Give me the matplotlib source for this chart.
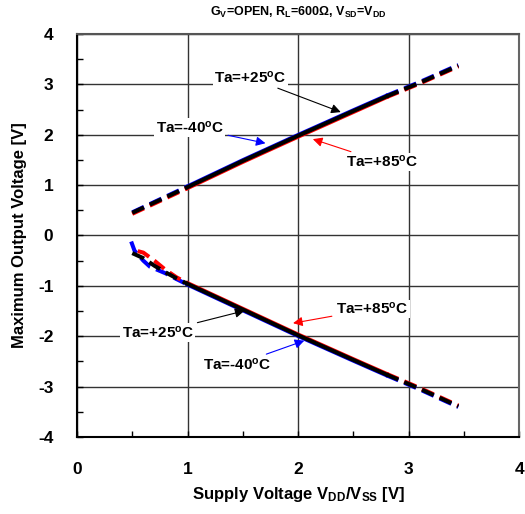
import matplotlib
matplotlib.use('Agg')
import matplotlib.pyplot as plt
import numpy as np

plt.rcParams['font.family'] = ['Liberation Sans', 'DejaVu Sans']
plt.rcParams['font.weight'] = 'bold'
plt.rcParams['axes.unicode_minus'] = False
plt.rcParams['mathtext.fontset'] = 'custom'
plt.rcParams['mathtext.rm'] = 'Liberation Sans:weight=bold'
plt.rcParams['mathtext.it'] = 'Liberation Sans:weight=bold'
plt.rcParams['mathtext.bf'] = 'Liberation Sans:weight=bold'
plt.rcParams['mathtext.default'] = 'bf'

# upper branch (positive output)
x_hi = [0.5, 1.0, 1.5, 2.0, 2.5, 2.8, 3.1, 3.45]
y_hi_25 = [0.45, 0.96, 1.48, 1.98, 2.47, 2.76, 3.03, 3.37]
y_hi_85 = [0.43, 0.94, 1.46, 1.96, 2.45, 2.745, 3.015, 3.355]
y_hi_m40 = [0.46, 0.975, 1.495, 1.995, 2.485, 2.775, 3.045, 3.385]

# lower branch (negative output)
x_lo_25 = [0.5, 0.6, 0.7, 0.8, 0.9, 1.0, 1.5, 2.0, 2.5, 2.8, 3.1, 3.45]
y_lo_25 = [-0.35, -0.45, -0.6, -0.73, -0.85, -0.96, -1.47, -1.98, -2.47, -2.76, -3.04, -3.39]
x_lo_85 = [0.55, 0.6, 0.7, 0.8, 0.9, 1.0, 1.5, 2.0, 2.5, 2.8, 3.1, 3.45]
y_lo_85 = [-0.31, -0.34, -0.5, -0.68, -0.83, -0.945, -1.455, -1.965, -2.455, -2.745, -3.025, -3.375]
x_lo_m40 = [0.49, 0.52, 0.6, 0.66, 0.8, 0.9, 1.0, 1.5, 2.0, 2.5, 2.8, 3.1, 3.45]
y_lo_m40 = [-0.12, -0.3, -0.5, -0.62, -0.75, -0.865, -0.975, -1.485, -1.995, -2.485, -2.775, -3.055, -3.405]

x_ticks = [0, 1, 2, 3, 4]
y_ticks = [-4, -3, -2, -1, 0, 1, 2, 3, 4]


def draw(ax, x, y, color, lw):
    x = np.array(x)
    y = np.array(y)
    lo = x <= 1.0
    mid = (x >= 1.0) & (x <= 2.8)
    hi = x >= 2.8
    ax.plot(x[lo], y[lo], color=color, lw=lw, dashes=(3.2, 1.6))
    ax.plot(x[mid], y[mid], color=color, lw=lw)
    ax.plot(x[hi], y[hi], color=color, lw=lw, dashes=(3.2, 1.6))


fig = plt.figure(figsize=(5.25, 5.14), dpi=100)
ax = fig.add_axes([0.1467, 0.1498, 0.842, 0.7841])

for xx, yy, c in [(x_hi, y_hi_m40, 'blue'), (x_hi, y_hi_85, 'red'), (x_hi, y_hi_25, 'black'),
                  (x_lo_m40, y_lo_m40, 'blue'), (x_lo_85, y_lo_85, 'red'), (x_lo_25, y_lo_25, 'black')]:
    draw(ax, xx, yy, c, 2.9)

ax.set_xlim(0, 4)
ax.set_ylim(-4, 4)
ax.set_xticks(x_ticks)
ax.set_yticks(y_ticks)
ax.set_xticks(np.arange(0, 4.01, 0.5), minor=True)
ax.set_yticks(np.arange(-4, 4.01, 0.5), minor=True)
ax.tick_params(which='both', direction='in', length=4, width=1, labelsize=12.5)
ax.tick_params(axis='x', pad=18)
ax.tick_params(axis='y', pad=17)
for lab in ax.get_xticklabels() + ax.get_yticklabels():
    lab.set_fontweight('bold')
ax.grid(True, which='major', color='#333333', lw=1)
for s in ax.spines.values():
    s.set_linewidth(1.5)
ax.spines['top'].set_color('#555555')
ax.spines['right'].set_color('#666666')

ax.set_xlabel('Supply Voltage V$_{DD}$/V$_{SS}$ [V]', fontsize=12, fontweight='bold', labelpad=6)
ax.set_ylabel('Maximum Output Voltage [V]', fontsize=12, fontweight='bold', labelpad=8)
ax.set_title('G$_V$=OPEN, R$_L$=600Ω, V$_{SD}$=V$_{DD}$', fontsize=9, fontweight='bold', pad=13)

box = dict(facecolor='white', edgecolor='none', pad=1)
arrow = dict(arrowstyle='-|>', lw=0.8, mutation_scale=14)


def note(text, xy, xytext, color):
    ax.annotate(text, xy=xy, xytext=xytext, fontsize=11, fontweight='bold', ha='center', va='center',
                bbox=box, arrowprops=dict(arrow, color=color))


note('Ta=+25$^o$C', (2.41, 2.43), (1.57, 3.13), 'black')
note('Ta=-40$^o$C', (1.73, 1.82), (1.02, 2.15), 'blue')
note('Ta=+85$^o$C', (2.11, 1.93), (2.76, 1.46), 'red')
note('Ta=+25$^o$C', (1.54, -1.48), (0.73, -1.93), 'black')
note('Ta=-40$^o$C', (2.08, -2.07), (1.45, -2.56), 'blue')
note('Ta=+85$^o$C', (1.93, -1.75), (2.67, -1.46), 'red')

fig.savefig('out.png', dpi=100)
